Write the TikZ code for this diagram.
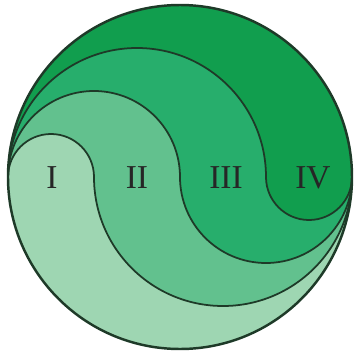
\documentclass[tikz,border=0pt]{standalone}
\usepackage{fontspec}
\setmainfont{Liberation Serif}
\usepackage{xcolor}
\definecolor{zoneI}{HTML}{9ED6B2}
\definecolor{zoneII}{HTML}{62C18E}
\definecolor{zoneIII}{HTML}{27AE6C}
\definecolor{zoneIV}{HTML}{119E4E}
\definecolor{rim}{HTML}{1E3A28}

\begin{document}
\begin{tikzpicture}[x=0.01cm,y=0.01cm,
  seam/.style={draw=rim,line width=0.5pt},
  zonelabel/.style={font=\fontsize{9.5}{11}\selectfont,text=black!85}]
  \useasboundingbox (-180,-177) rectangle (180,177);
  % Whole disc in the darkest shade, then lighter zones below each seam.
  \fill[zoneIV] (0,0) circle (172);
  \fill[zoneIII] (-172,0) arc[start angle=180,end angle=0,radius=129]
    arc[start angle=180,end angle=360,radius=43]
    arc[start angle=0,end angle=-180,radius=172] -- cycle;
  \fill[zoneII] (-172,0) arc[start angle=180,end angle=0,radius=86]
    arc[start angle=180,end angle=360,radius=86]
    arc[start angle=0,end angle=-180,radius=172] -- cycle;
  \fill[zoneI] (-172,0) arc[start angle=180,end angle=0,radius=43]
    arc[start angle=180,end angle=360,radius=129]
    arc[start angle=0,end angle=-180,radius=172] -- cycle;
  % Seams between the zones.
  \draw[seam] (-172,0) arc[start angle=180,end angle=0,radius=43]
    arc[start angle=180,end angle=360,radius=129];
  \draw[seam] (-172,0) arc[start angle=180,end angle=0,radius=86]
    arc[start angle=180,end angle=360,radius=86];
  \draw[seam] (-172,0) arc[start angle=180,end angle=0,radius=129]
    arc[start angle=180,end angle=360,radius=43];
  % Rim.
  \draw[rim,line width=0.7pt] (0,0) circle (172);
  % Zone numerals.
  \node[zonelabel] (labI)   at (-128,-1) {I};
  \node[zonelabel] (labII)  at (-43,-1)  {II};
  \node[zonelabel] (labIII) at (46,-1)   {III};
  \node[zonelabel] (labIV)  at (133,-1)  {IV};
\end{tikzpicture}
\end{document}
